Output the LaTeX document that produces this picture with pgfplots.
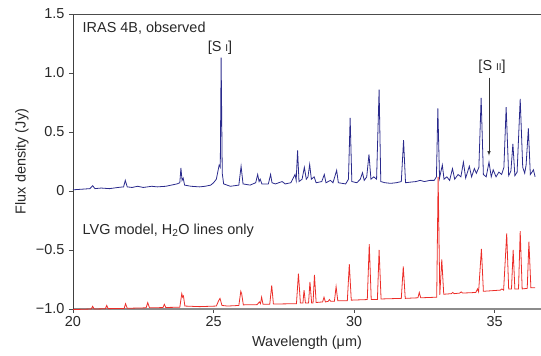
\documentclass[border=0pt]{standalone}
\usepackage{pgfplots}
\pgfplotsset{compat=1.18}
\usepackage{fontspec}
\setmainfont{Liberation Sans}
\definecolor{obsblue}{RGB}{42,42,140}
\definecolor{modred}{RGB}{236,45,40}
\definecolor{txt}{RGB}{40,40,40}
\newcommand{\lf}{\fontsize{14.5}{16}\selectfont}
\begin{document}
\begin{tikzpicture}
\begin{axis}[
  scale only axis, width=468bp, height=295bp,
  xmin=20, xmax=36.65, ymin=-1, ymax=1.5,
  axis x line*=bottom, axis y line*=left,
  x axis line style={black!45, line width=1.3pt},
  y axis line style={black!75, line width=0.7pt},
  xtick={20,25,30,35}, ytick={-1,-0.5,0,0.5,1,1.5},
  yticklabels={−1.0,−0.5,0,0.5,1.0,1.5},
  tick align=outside, major tick length=4bp,
  tick style={black!70, line width=0.6pt},
  /pgf/number format/assume math mode=true,
  ticklabel style={font=\lf, text=txt},
  yticklabel style={xshift=-1bp},
  xlabel={Wavelength (μm)},
  ylabel={Flux density (Jy)},
  ylabel style={font=\lf, text=txt, at={(rel axis cs:-0.109,0.5)}, anchor=center},
  xlabel style={font=\lf, text=txt, at={(rel axis cs:0.5,-0.115)}, anchor=center},
  clip=false,
  after end axis/.code={
    \draw[black!70, line width=0.9pt] (rel axis cs:0,1) -- (rel axis cs:1,1);
    \coordinate (bl) at (rel axis cs:0,0);
    \coordinate (tr) at (rel axis cs:1,1);
  },
]
\addplot[modred, line width=0.8pt] coordinates {
(20.0,-1.005) (20.65,-1.0) (20.7,-0.977) (20.75,-1.0) (21.15,-0.998) (21.2,-0.97) (21.25,-0.997)
(21.82,-0.995) (21.87,-0.955) (21.93,-0.994) (22.6,-0.99) (22.66,-0.946) (22.72,-0.99)
(23.2,-0.988) (23.25,-0.96) (23.3,-0.987) (23.8,-0.985) (23.87,-0.87) (23.9,-0.9) (23.93,-0.89) (23.98,-0.975)
(24.5,-0.98) (25.1,-0.975) (25.18,-0.93) (25.23,-0.91) (25.3,-0.97) (25.5,-0.975)
(25.9,-0.97) (25.97,-0.85) (26.0,-0.87) (26.06,-0.965) (26.55,-0.963) (26.63,-0.94) (26.67,-0.955)
(26.71,-0.90) (26.76,-0.96) (27.0,-0.96) (27.07,-0.80) (27.13,-0.958) (27.95,-0.955) (28.02,-0.70)
(28.09,-0.95) (28.18,-0.95) (28.22,-0.84) (28.27,-0.95) (28.38,-0.95) (28.43,-0.77) (28.49,-0.95)
(28.54,-0.95) (28.59,-0.71) (28.65,-0.945) (28.88,-0.94) (28.93,-0.90) (28.98,-0.94)
(29.08,-0.935) (29.12,-0.92) (29.17,-0.935) (29.3,-0.935) (29.36,-0.81) (29.42,-0.93)
(29.76,-0.93) (29.83,-0.62) (29.9,-0.925) (30.47,-0.92) (30.54,-0.45) (30.61,-0.92)
(30.83,-0.92) (30.89,-0.50) (30.96,-0.915) (31.68,-0.91) (31.75,-0.64) (31.82,-0.91)
(32.27,-0.905) (32.32,-0.86) (32.37,-0.905) (32.94,-0.90) (32.99,0.12) (33.05,-0.88)
(33.12,-0.58) (33.19,-0.875) (33.46,-0.87) (33.51,-0.86) (33.56,-0.87) (33.76,-0.865)
(33.81,-0.855) (33.86,-0.865) (34.33,-0.86) (34.39,-0.83) (34.43,-0.855) (34.53,-0.49)
(34.6,-0.85) (35.2,-0.84) (35.26,-0.83) (35.32,-0.84) (35.43,-0.36) (35.5,-0.83)
(35.6,-0.83) (35.66,-0.50) (35.72,-0.83) (35.85,-0.83) (35.91,-0.34) (35.98,-0.83)
(36.16,-0.825) (36.22,-0.43) (36.29,-0.82) (36.44,-0.82)
};
\addplot[obsblue, line width=0.8pt] coordinates {
(20.0,0.01) (20.3,0.015) (20.6,0.02) (20.7,0.045) (20.78,0.02) (21.0,0.025) (21.3,0.02)
(21.6,0.03) (21.8,0.035) (21.86,0.09) (21.93,0.035) (22.1,0.03) (22.3,0.04) (22.5,0.03)
(22.8,0.04) (23.0,0.035) (23.3,0.04) (23.5,0.05) (23.7,0.06) (23.8,0.07) (23.84,0.195)
(23.88,0.09) (23.92,0.11) (23.97,0.05) (24.2,0.04) (24.5,0.035) (24.7,0.04) (24.9,0.05)
(25.0,0.07) (25.1,0.1) (25.2,0.22) (25.24,0.2) (25.27,1.13) (25.31,0.15) (25.36,0.06)
(25.6,0.04) (25.9,0.05) (25.98,0.21) (26.05,0.06) (26.3,0.05) (26.5,0.07) (26.57,0.14)
(26.62,0.08) (26.66,0.1) (26.72,0.06) (26.95,0.06) (27.03,0.14) (27.08,0.07) (27.2,0.06)
(27.44,0.08) (27.55,0.06) (27.75,0.07) (27.9,0.14) (27.94,0.09) (27.99,0.345) (28.04,0.08)
(28.15,0.1) (28.23,0.2) (28.3,0.1) (28.36,0.12) (28.42,0.225) (28.48,0.1) (28.58,0.12)
(28.65,0.07) (28.85,0.08) (28.94,0.14) (29.0,0.07) (29.16,0.09) (29.25,0.07) (29.38,0.175)
(29.44,0.07) (29.7,0.06) (29.8,0.1) (29.86,0.62) (29.92,0.08) (30.1,0.07) (30.22,0.1)
(30.3,0.155) (30.36,0.09) (30.45,0.12) (30.53,0.31) (30.6,0.1) (30.7,0.12) (30.8,0.1)
(30.89,0.86) (30.95,0.08) (31.1,0.07) (31.3,0.065) (31.5,0.07) (31.68,0.08) (31.76,0.43)
(31.83,0.07) (32.0,0.075) (32.2,0.08) (32.35,0.09) (32.5,0.08) (32.7,0.09) (32.85,0.09)
(32.93,0.12) (32.98,0.70) (33.04,0.11) (33.14,0.22) (33.2,0.1) (33.3,0.12) (33.4,0.09)
(33.5,0.19) (33.58,0.1) (33.7,0.14) (33.8,0.12) (33.89,0.245) (33.97,0.11) (34.1,0.21)
(34.18,0.12) (34.28,0.19) (34.35,0.15) (34.44,0.2) (34.52,0.79) (34.6,0.14) (34.7,0.12)
(34.8,0.245) (34.88,0.12) (34.95,0.18) (35.05,0.12) (35.15,0.16) (35.25,0.14) (35.33,0.2)
(35.41,0.71) (35.5,0.13) (35.58,0.17) (35.65,0.40) (35.72,0.13) (35.8,0.16) (35.91,0.78)
(36.0,0.2) (36.07,0.15) (36.12,0.22) (36.2,0.53) (36.27,0.14) (36.33,0.16) (36.38,0.18)
(36.44,0.12)
};
\node[anchor=west, font=\lf, text=txt] at (axis cs:20.22,1.38) {IRAS 4B, observed};
\node[font=\lf, text=txt] at (axis cs:25.23,1.21) {[S {\fontsize{10}{10}\selectfont I}]};
\node[font=\lf, text=txt] at (axis cs:34.91,1.05) {[S {\fontsize{10}{10}\selectfont II}]};
\draw[-{latex}, black!80, line width=0.6pt] (axis cs:34.8,0.96) -- (axis cs:34.8,0.30);
\node[anchor=west, font=\lf, text=txt] at (axis cs:20.22,-0.333) {LVG model, H\textsubscript{2}O lines only};
\end{axis}
\pgfresetboundingbox
\path[use as bounding box] ([shift={(-73bp,-47bp)}]bl) rectangle ([shift={(0bp,14bp)}]tr);
\end{tikzpicture}
\end{document}
